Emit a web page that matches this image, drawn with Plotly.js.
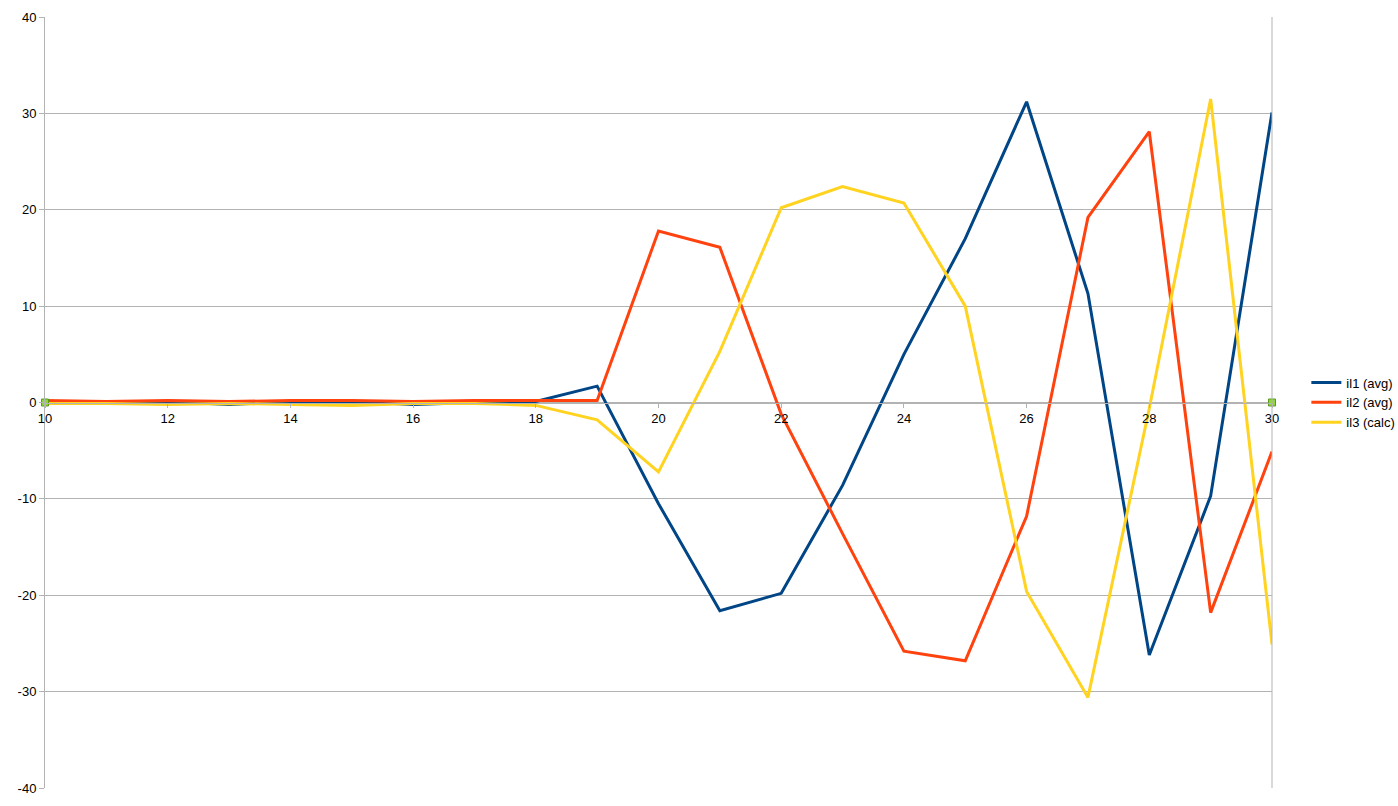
<!DOCTYPE html>
<html>
<head>
<meta charset="utf-8">
<script src="https://cdn.plot.ly/plotly-3.0.1.min.js"></script>
<style>html,body{margin:0;padding:0;background:#fff;}#chart{width:1398px;height:806px;}</style>
</head>
<body>
<div id="chart"></div>
<script>
const xValues = [10,11,12,13,14,15,16,17,18,19,20,21,22,23,24,25,26,27,28,29,30];
const il1 = [-0.1,0.0,0.1,-0.2,0.1,0.1,-0.2,0.0,0.1,1.7,-10.5,-21.6,-19.8,-8.6,5.0,17.0,31.2,11.3,-26.2,-9.7,30.1];
const il2 = [0.2,0.1,0.2,0.1,0.2,0.2,0.1,0.2,0.2,0.2,17.8,16.1,-1.2,-13.6,-25.8,-26.8,-11.8,19.2,28.1,-21.8,-5.1];
const il3 = [-0.1,-0.1,-0.2,-0.1,-0.2,-0.3,-0.1,-0.1,-0.3,-1.8,-7.2,5.3,20.2,22.4,20.7,10.0,-19.6,-30.6,-0.6,31.5,-25.1];
const markerX = [10,30];
const markerY = [0,0];
const seriesNames = ["il1 (avg)","il2 (avg)","il3 (calc)"];
const xTicks = [10,12,14,16,18,20,22,24,26,28,30];
const yTicks = [-40,-30,-20,-10,0,10,20,30,40];

const traces = [
  {x:xValues,y:il1,name:seriesNames[0],mode:'lines',line:{color:'#004586',width:3}},
  {x:xValues,y:il2,name:seriesNames[1],mode:'lines',line:{color:'#ff420e',width:3}},
  {x:xValues,y:il3,name:seriesNames[2],mode:'lines',line:{color:'#ffd320',width:3}},
  {x:markerX,y:markerY,mode:'markers',showlegend:false,hoverinfo:'skip',cliponaxis:false,
   marker:{symbol:'square',size:7,color:'#8fd63a',line:{color:'#5a9b1c',width:1}}}
];

const layout = {
  width:1398,height:806,
  margin:{l:45,r:126,t:17,b:18,autoexpand:false},
  paper_bgcolor:'#fff',plot_bgcolor:'#fff',
  font:{family:'Liberation Sans, Arial, sans-serif',size:13,color:'#000'},
  showlegend:true,
  legend:{x:1.028,xanchor:'left',y:0.5,yanchor:'middle',font:{size:13},tracegroupgap:0,itemwidth:30,bgcolor:'rgba(0,0,0,0)'},
  xaxis:{range:[10,30],tickvals:xTicks,ticktext:xTicks.map(String),showgrid:false,zeroline:false,
    showline:true,linecolor:'#b3b3b3',linewidth:1,ticks:'outside',ticklen:4,tickcolor:'#b3b3b3',
    anchor:'free',position:0.5,tickfont:{size:13,color:'#000'}},
  yaxis:{range:[-40,40],tickvals:yTicks,ticktext:yTicks.map(String),showgrid:true,gridcolor:'#b3b3b3',gridwidth:1,
    zeroline:false,showline:true,linecolor:'#b3b3b3',linewidth:1,ticks:'outside',ticklen:5,tickcolor:'#b3b3b3',
    tickfont:{size:13,color:'#000'}},
  shapes:[
    {type:'line',xref:'paper',yref:'paper',x0:1,x1:1,y0:0,y1:1,line:{color:'#b3b3b3',width:1}}
  ]
};
Plotly.newPlot('chart',traces,layout,{displayModeBar:false,staticPlot:true});
</script>
</body>
</html>
